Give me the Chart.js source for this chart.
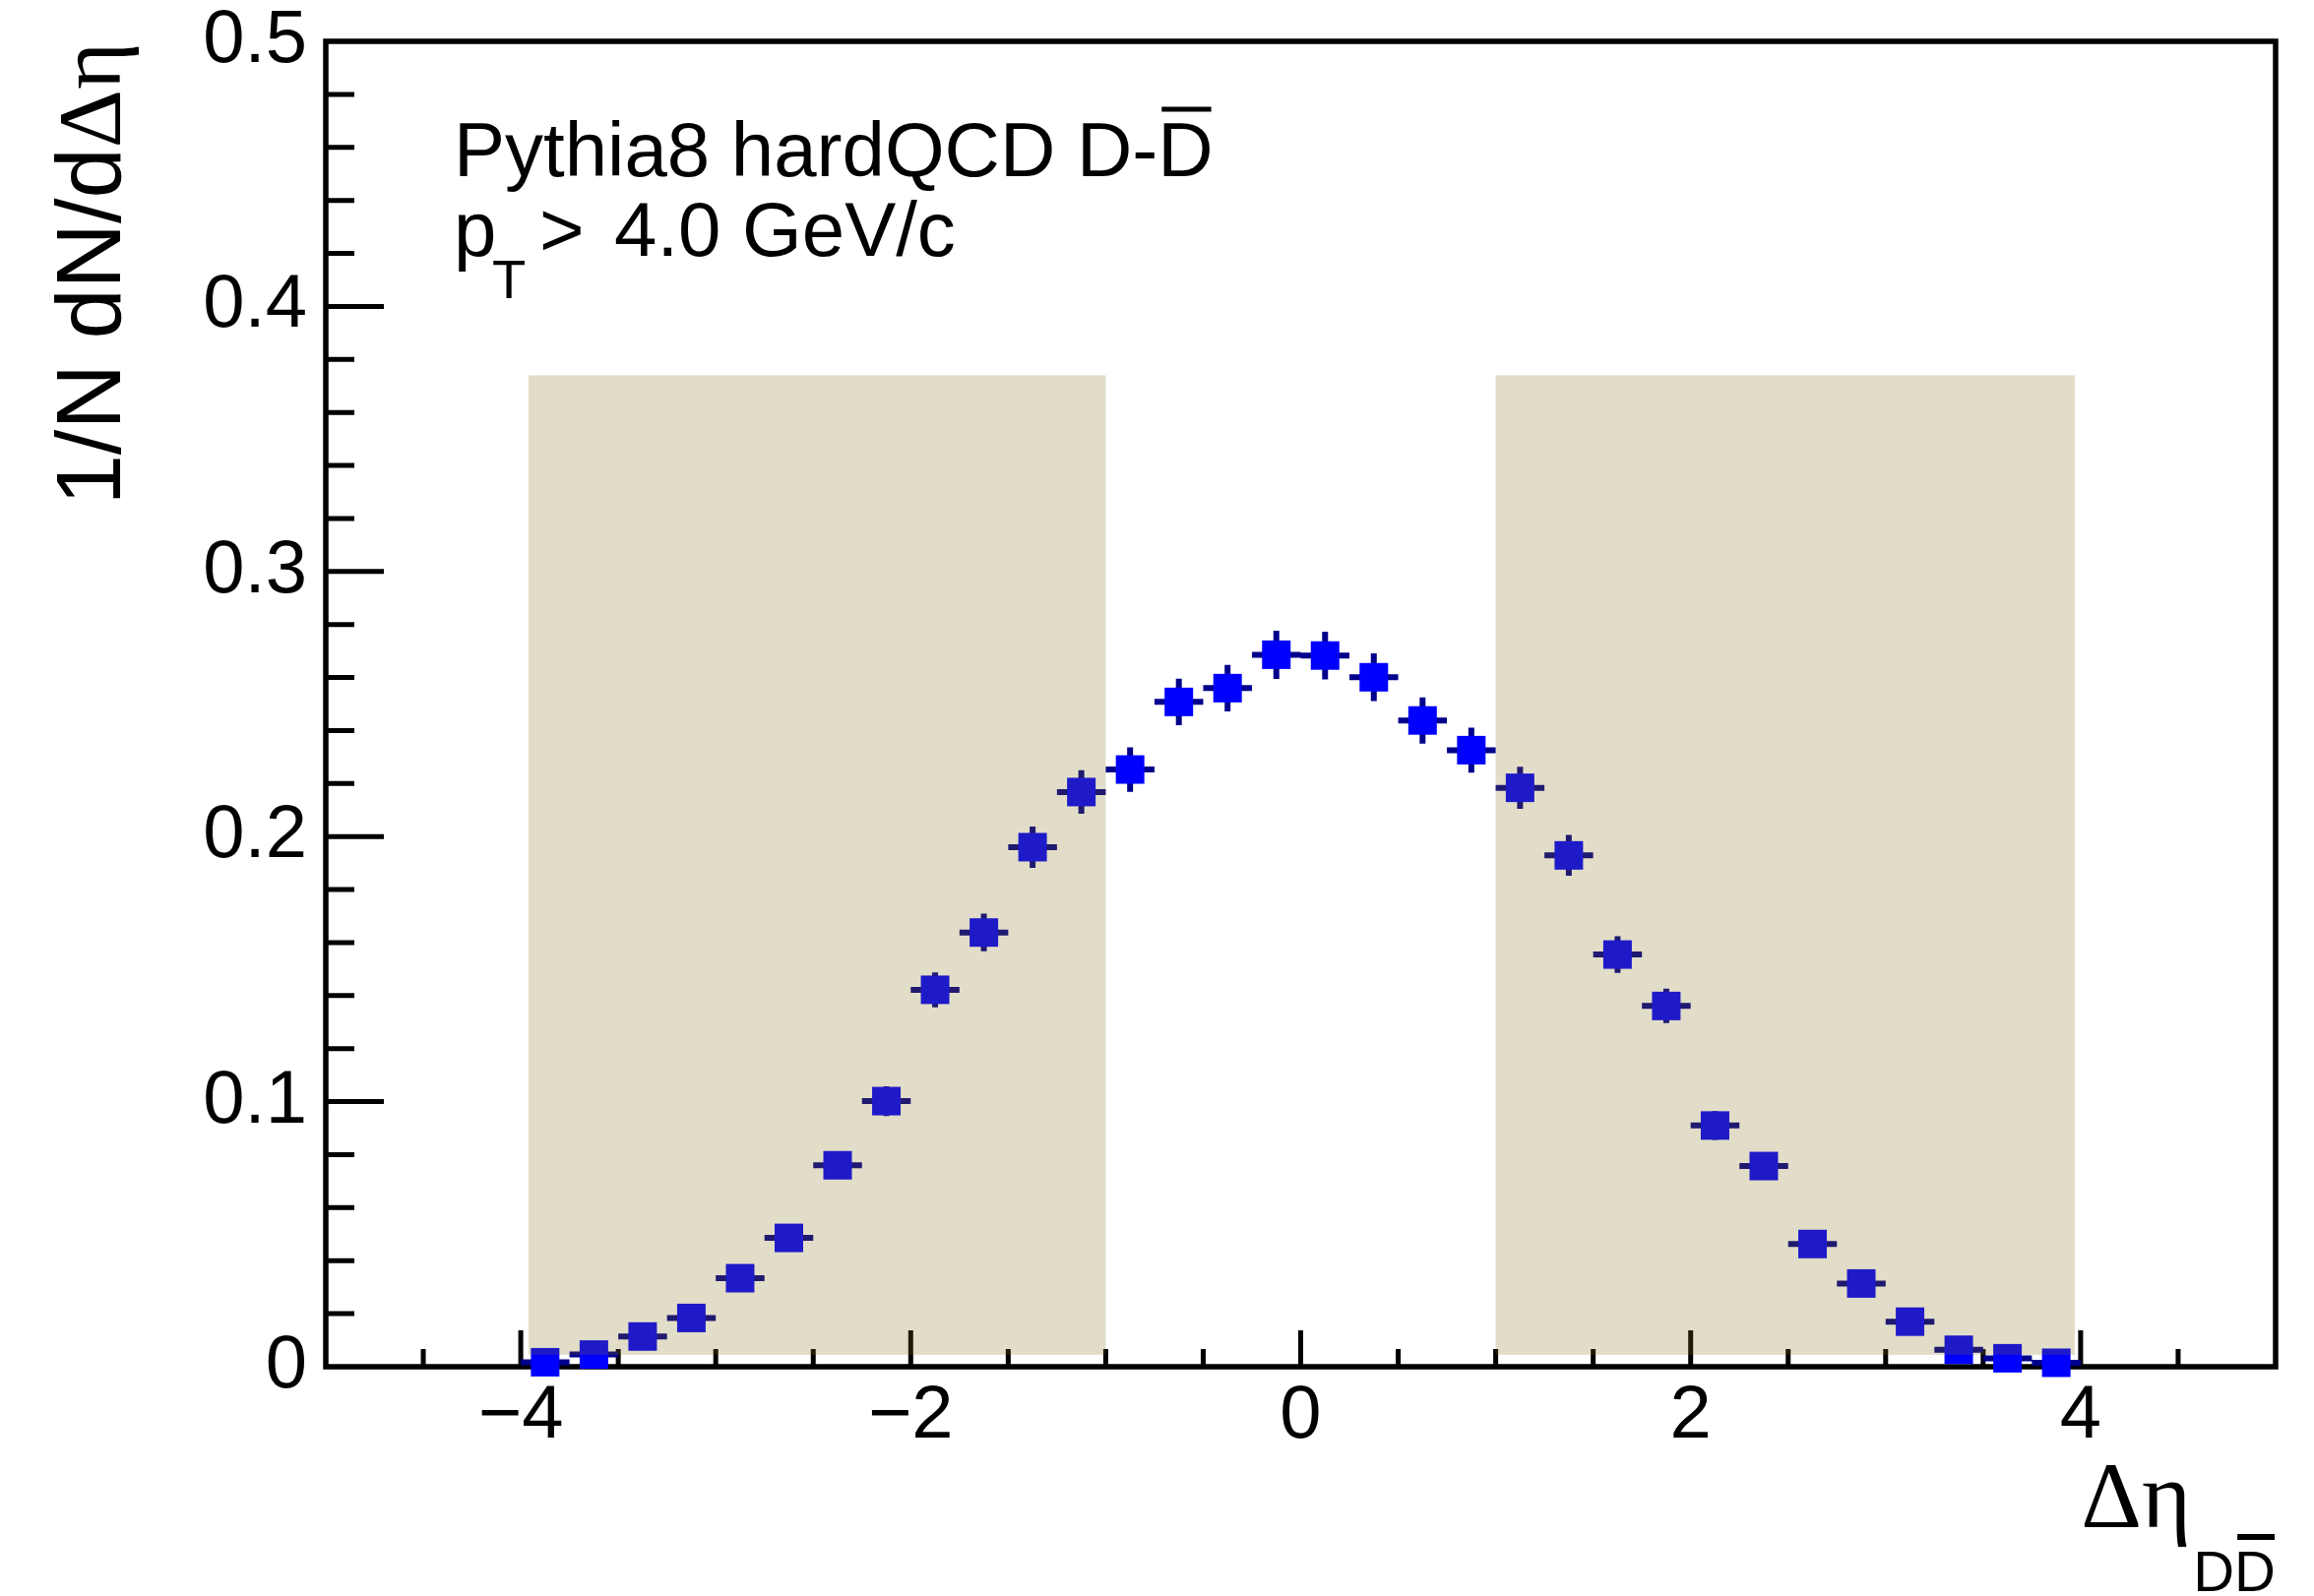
<!DOCTYPE html>
<html>
<head>
<meta charset="utf-8">
<script src="https://cdn.jsdelivr.net/npm/chart.js@4.4.1/dist/chart.umd.min.js"></script>
<style>
  html, body { margin: 0; padding: 0; background: #fff; }
  #wrap { width: 2351px; height: 1622px; }
</style>
</head>
<body>
<div id="wrap"><canvas id="chart" width="2351" height="1622"></canvas></div>
<script>
// delta eta bins (centres), width 0.25
const binCenters = [-3.875, -3.625, -3.375, -3.125, -2.875, -2.625, -2.375, -2.125,
  -1.875, -1.625, -1.375, -1.125, -0.875, -0.625, -0.375, -0.125,
  0.125, 0.375, 0.625, 0.875, 1.125, 1.375, 1.625, 1.875,
  2.125, 2.375, 2.625, 2.875, 3.125, 3.375, 3.625, 3.875];
const binHalfWidth = 0.125;
const yields = [0.0017, 0.0046, 0.0114, 0.0184, 0.0334, 0.0486, 0.0760, 0.1002,
  0.1422, 0.1638, 0.1960, 0.2168, 0.2253, 0.2508, 0.2560, 0.2686,
  0.2683, 0.2601, 0.2438, 0.2326, 0.2184, 0.1929, 0.1555, 0.1361,
  0.0910, 0.0757, 0.0463, 0.0314, 0.0170, 0.0064, 0.0032, 0.0015];
const yErrors = [0.0008, 0.0013, 0.0020, 0.0026, 0.0034, 0.0040, 0.0049, 0.0056,
  0.0066, 0.0071, 0.0078, 0.0082, 0.0084, 0.0088, 0.0088, 0.0091,
  0.0090, 0.0090, 0.0087, 0.0085, 0.0079, 0.0077, 0.0069, 0.0065,
  0.0054, 0.0049, 0.0038, 0.0032, 0.0023, 0.0014, 0.0010, 0.0007];

// shaded side-band regions
const sidebandLeft = [-3.96, -1.0];
const sidebandRight = [1.0, 3.97];
const sidebandY = [0.0045, 0.374];

const xTickValues = [-4, -2, 0, 2, 4];
const yTickValues = [0, 0.1, 0.2, 0.3, 0.4, 0.5];

const SANS = "'Liberation Sans', Arial, Helvetica, sans-serif";
const SERIF = "'Liberation Serif', 'Times New Roman', serif";

const rootStyle = {
  id: 'rootStyle',
  beforeDatasetsDraw(chart) {
    const { ctx, chartArea: a, scales: { x, y } } = chart;
    ctx.save();
    ctx.strokeStyle = '#000';
    ctx.lineWidth = 5.5;
    ctx.strokeRect(a.left, a.top, a.right - a.left, a.bottom - a.top);

    // ticks, drawn inward like ROOT
    ctx.lineWidth = 5;
    ctx.beginPath();
    for (let v = -4.5; v <= 4.51; v += 0.5) {
      const px = x.getPixelForValue(v);
      const len = Math.abs(v % 2) < 1e-6 ? 37 : 18;
      ctx.moveTo(px, a.bottom);
      ctx.lineTo(px, a.bottom - len);
    }
    for (let k = 1; k < 25; k++) {
      const v = k * 0.02;
      const py = y.getPixelForValue(v);
      const len = k % 5 === 0 ? 59 : 29;
      ctx.moveTo(a.left, py);
      ctx.lineTo(a.left + len, py);
    }
    ctx.stroke();

    // error bars
    ctx.strokeStyle = '#00008c';
    ctx.lineWidth = 6;
    ctx.beginPath();
    binCenters.forEach((c, i) => {
      const px = x.getPixelForValue(c);
      const py = y.getPixelForValue(yields[i]);
      ctx.moveTo(x.getPixelForValue(c - binHalfWidth), py);
      ctx.lineTo(x.getPixelForValue(c + binHalfWidth), py);
      ctx.moveTo(px, y.getPixelForValue(yields[i] - yErrors[i]));
      ctx.lineTo(px, y.getPixelForValue(yields[i] + yErrors[i]));
    });
    ctx.stroke();
    ctx.restore();
  },
  afterDatasetsDraw(chart) {
    const { ctx, scales: { x, y } } = chart;
    ctx.save();
    ctx.fillStyle = 'rgba(132, 110, 21, 0.235)';
    [sidebandLeft, sidebandRight].forEach(r => {
      const x0 = x.getPixelForValue(r[0]);
      const x1 = x.getPixelForValue(r[1]);
      const y0 = y.getPixelForValue(sidebandY[1]);
      const y1 = y.getPixelForValue(sidebandY[0]);
      ctx.fillRect(x0, y0, x1 - x0, y1 - y0);
    });
    ctx.restore();
  },
  afterDraw(chart) {
    const { ctx } = chart;
    ctx.save();
    ctx.fillStyle = '#000';
    ctx.strokeStyle = '#000';
    ctx.textBaseline = 'alphabetic';
    ctx.textAlign = 'left';

    // legend text
    ctx.font = `78px ${SANS}`;
    const pre = 'Pythia8 hardQCD D-';
    ctx.fillText(pre + 'D', 461, 179);
    const dx = 461 + ctx.measureText(pre).width;
    const dw = ctx.measureText('D').width;
    ctx.lineWidth = 5;
    ctx.beginPath();
    ctx.moveTo(dx + 4, 111);
    ctx.lineTo(dx + dw - 2, 111);
    ctx.stroke();

    ctx.fillText('p', 461, 260);
    ctx.fillText('>', 548, 260);
    ctx.fillText('4.0 GeV/c', 624, 260);
    ctx.font = `56px ${SANS}`;
    ctx.fillText('T', 500, 303);

    // x title
    ctx.font = `58px ${SANS}`;
    const subW = ctx.measureText('DD').width;
    const oneD = ctx.measureText('D').width;
    const subX = 2312 - subW;
    ctx.fillText('DD', subX, 1617);
    ctx.lineWidth = 6;
    ctx.beginPath();
    ctx.moveTo(subX + oneD + 3, 1562);
    ctx.lineTo(2311, 1562);
    ctx.stroke();
    ctx.font = `96px ${SERIF}`;
    ctx.textAlign = 'right';
    ctx.fillText('\u0394\u03b7', subX - 2, 1552);

    // y title
    ctx.translate(122, 43);
    ctx.rotate(-Math.PI / 2);
    ctx.font = `92px ${SERIF}`;
    ctx.fillText('\u0394\u03b7', 0, 0);
    const gw = ctx.measureText('\u0394\u03b7').width;
    ctx.font = `92px ${SANS}`;
    ctx.fillText('1/N dN/d', -gw, 0);
    ctx.restore();
  }
};

new Chart(document.getElementById('chart'), {
  type: 'scatter',
  data: {
    datasets: [{
      data: binCenters.map((c, i) => ({ x: c, y: yields[i] })),
      pointStyle: 'rect',
      pointRadius: 20.5,
      pointHoverRadius: 20.5,
      backgroundColor: '#0000ff',
      borderWidth: 0,
      clip: false
    }]
  },
  options: {
    responsive: false,
    animation: false,
    devicePixelRatio: 1,
    events: [],
    layout: { padding: { top: 42, right: 39, left: 0, bottom: 0 } },
    plugins: { legend: { display: false }, tooltip: { enabled: false } },
    scales: {
      x: {
        type: 'linear', min: -5, max: 5,
        grid: { display: false, drawTicks: false },
        border: { display: false },
        afterBuildTicks: s => { s.ticks = xTickValues.map(v => ({ value: v })); },
        afterFit: s => { s.height = 233; s.paddingLeft = 0; s.paddingRight = 0; },
        ticks: {
          color: '#000', padding: 5,
          font: { family: SANS, size: 76 },
          callback: v => (v < 0 ? '\u2212' + Math.abs(v) : String(v))
        }
      },
      y: {
        type: 'linear', min: 0, max: 0.5,
        grid: { display: false, drawTicks: false },
        border: { display: false },
        afterBuildTicks: s => { s.ticks = yTickValues.map(v => ({ value: v })); },
        afterFit: s => { s.width = 331; s.paddingTop = 0; s.paddingBottom = 0; },
        ticks: {
          color: '#000', padding: 19,
          font: { family: SANS, size: 76 },
          callback: v => String(Math.round(v * 10) / 10)
        }
      }
    }
  },
  plugins: [rootStyle]
});
</script>
</body>
</html>
